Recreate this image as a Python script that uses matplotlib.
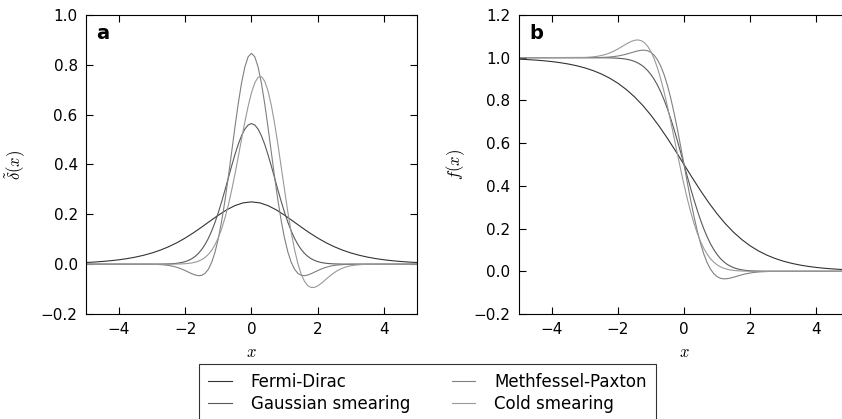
import matplotlib
matplotlib.use("Agg")
import matplotlib.pyplot as plt

plt.rcParams["mathtext.fontset"] = "cm"
plt.rcParams["font.family"] = ["DejaVu Sans"]

# Fermi-Dirac, sampled every 0.25
x_fd = [-5.0, -4.75, -4.5, -4.25, -4.0, -3.75, -3.5, -3.25, -3.0, -2.75,
        -2.5, -2.25, -2.0, -1.75, -1.5, -1.25, -1.0, -0.75, -0.5, -0.25,
        0.0, 0.25, 0.5, 0.75, 1.0, 1.25, 1.5, 1.75, 2.0, 2.25,
        2.5, 2.75, 3.0, 3.25, 3.5, 3.75, 4.0, 4.25, 4.5, 4.75, 5.0]
fd_delta = [0.00665, 0.00850, 0.01087, 0.01387, 0.01766, 0.02245, 0.02845, 0.03593, 0.04518, 0.05648,
            0.07010, 0.08626, 0.10499, 0.12613, 0.14915, 0.17311, 0.19661, 0.21790, 0.23500, 0.24613,
            0.25000, 0.24613, 0.23500, 0.21790, 0.19661, 0.17311, 0.14915, 0.12613, 0.10499, 0.08626,
            0.07010, 0.05648, 0.04518, 0.03593, 0.02845, 0.02245, 0.01766, 0.01387, 0.01087, 0.00850, 0.00665]
fd_occ = [0.99331, 0.99142, 0.98901, 0.98594, 0.98201, 0.97702, 0.97069, 0.96267, 0.95257, 0.93991,
          0.92414, 0.90465, 0.88080, 0.85195, 0.81757, 0.77730, 0.73106, 0.67918, 0.62246, 0.56218,
          0.50000, 0.43782, 0.37754, 0.32082, 0.26894, 0.22270, 0.18243, 0.14805, 0.11920, 0.09535,
          0.07586, 0.06009, 0.04743, 0.03733, 0.02931, 0.02298, 0.01799, 0.01406, 0.01099, 0.00858, 0.00669]

# the gaussian-type smearings, sampled every 0.1 in the middle
xs = [-5.0,
      -3.0, -2.9, -2.8, -2.7, -2.6, -2.5, -2.4, -2.3, -2.2, -2.1,
      -2.0, -1.9, -1.8, -1.7, -1.6, -1.5, -1.4, -1.3, -1.2, -1.1,
      -1.0, -0.9, -0.8, -0.7, -0.6, -0.5, -0.4, -0.3, -0.2, -0.1,
      0.0, 0.1, 0.2, 0.3, 0.4, 0.5, 0.6, 0.7, 0.8, 0.9,
      1.0, 1.1, 1.2, 1.3, 1.4, 1.5, 1.6, 1.7, 1.8, 1.9,
      2.0, 2.1, 2.2, 2.3, 2.4, 2.5, 2.6, 2.7, 2.8, 2.9,
      3.0, 3.1, 3.2, 3.3, 3.4, 3.5,
      5.0]

gauss_delta = [0.0,
               0.0001, 0.0001, 0.0002, 0.0004, 0.0007, 0.0011, 0.0018, 0.0028, 0.0045, 0.0069,
               0.0103, 0.0153, 0.0221, 0.0314, 0.0436, 0.0595, 0.0795, 0.1041, 0.1337, 0.1682,
               0.2076, 0.2510, 0.2975, 0.3456, 0.3936, 0.4394, 0.4808, 0.5156, 0.5421, 0.5586,
               0.5642, 0.5586, 0.5421, 0.5156, 0.4808, 0.4394, 0.3936, 0.3456, 0.2975, 0.2510,
               0.2076, 0.1682, 0.1337, 0.1041, 0.0795, 0.0595, 0.0436, 0.0314, 0.0221, 0.0153,
               0.0103, 0.0069, 0.0045, 0.0028, 0.0018, 0.0011, 0.0007, 0.0004, 0.0002, 0.0001,
               0.0001, 0.0, 0.0, 0.0, 0.0, 0.0,
               0.0]
mp_delta = [0.0,
            -0.0005, -0.0009, -0.0014, -0.0022, -0.0034, -0.0052, -0.0076, -0.0108, -0.0149, -0.0200,
            -0.0259, -0.0322, -0.0384, -0.0436, -0.0462, -0.0446, -0.0366, -0.0198, 0.0080, 0.0488,
            0.1038, 0.1732, 0.2558, 0.3491, 0.4487, 0.5492, 0.6442, 0.7270, 0.7914, 0.8323,
            0.8463, 0.8323, 0.7914, 0.7270, 0.6442, 0.5492, 0.4487, 0.3491, 0.2558, 0.1732,
            0.1038, 0.0488, 0.0080, -0.0198, -0.0366, -0.0446, -0.0462, -0.0436, -0.0384, -0.0322,
            -0.0259, -0.0200, -0.0149, -0.0108, -0.0076, -0.0052, -0.0034, -0.0022, -0.0014, -0.0009,
            -0.0005, -0.0003, -0.0002, -0.0001, 0.0, 0.0,
            0.0]
cold_delta = [0.0,
              0.0, 0.0, 0.0, 0.0, 0.0, 0.0001, 0.0002, 0.0004, 0.0006, 0.0011,
              0.0019, 0.0031, 0.0049, 0.0078, 0.0121, 0.0183, 0.0272, 0.0396, 0.0563, 0.0783,
              0.1068, 0.1423, 0.1856, 0.2368, 0.2955, 0.3605, 0.4300, 0.5011, 0.5705, 0.6341,
              0.6878, 0.7276, 0.7501, 0.7527, 0.7344, 0.6954, 0.6376, 0.5642, 0.4796, 0.3888,
              0.2969, 0.2088, 0.1287, 0.0596, 0.0035, -0.0391, -0.0685, -0.0860, -0.0935, -0.0932,
              -0.0873, -0.0779, -0.0667, -0.0551, -0.0440, -0.0341, -0.0257, -0.0189, -0.0135, -0.0094,
              -0.0064, -0.0043, -0.0028, -0.0018, -0.0011, -0.0007,
              0.0]

gauss_occ = [1.0,
             1.0000, 1.0000, 1.0000, 0.9999, 0.9999, 0.9998, 0.9997, 0.9994, 0.9991, 0.9985,
             0.9977, 0.9964, 0.9945, 0.9919, 0.9882, 0.9831, 0.9761, 0.9670, 0.9552, 0.9401,
             0.9214, 0.8985, 0.8711, 0.8389, 0.8019, 0.7602, 0.7142, 0.6643, 0.6114, 0.5562,
             0.5000, 0.4438, 0.3886, 0.3357, 0.2858, 0.2398, 0.1981, 0.1611, 0.1289, 0.1015,
             0.0786, 0.0599, 0.0448, 0.0330, 0.0239, 0.0169, 0.0118, 0.0081, 0.0055, 0.0036,
             0.0023, 0.0015, 0.0009, 0.0006, 0.0003, 0.0002, 0.0001, 0.0001, 0.0, 0.0,
             0.0, 0.0, 0.0, 0.0, 0.0, 0.0,
             0.0]
mp_occ = [1.0,
          1.0001, 1.0002, 1.0003, 1.0005, 1.0007, 1.0012, 1.0018, 1.0027, 1.0040, 1.0057,
          1.0080, 1.0109, 1.0144, 1.0186, 1.0231, 1.0277, 1.0318, 1.0347, 1.0354, 1.0326,
          1.0251, 1.0114, 0.9900, 0.9599, 0.9200, 0.8701, 0.8104, 0.7417, 0.6656, 0.5842,
          0.5000, 0.4158, 0.3344, 0.2583, 0.1897, 0.1299, 0.0800, 0.0401, 0.0100, -0.0114,
          -0.0251, -0.0326, -0.0354, -0.0347, -0.0318, -0.0277, -0.0231, -0.0186, -0.0144, -0.0109,
          -0.0080, -0.0057, -0.0040, -0.0027, -0.0018, -0.0012, -0.0007, -0.0005, -0.0003, -0.0002,
          -0.0001, -0.0001, 0.0, 0.0, 0.0, 0.0,
          0.0]
cold_occ = [1.0,
            1.0014, 1.0022, 1.0034, 1.0050, 1.0072, 1.0102, 1.0141, 1.0190, 1.0251, 1.0323,
            1.0406, 1.0497, 1.0591, 1.0681, 1.0759, 1.0814, 1.0833, 1.0803, 1.0710, 1.0542,
            1.0289, 0.9947, 0.9512, 0.8989, 0.8388, 0.7720, 0.7003, 0.6258, 0.5505, 0.4764,
            0.4055, 0.3393, 0.2790, 0.2254, 0.1789, 0.1394, 0.1066, 0.0801, 0.0590, 0.0427,
            0.0303, 0.0211, 0.0144, 0.0097, 0.0063, 0.0041, 0.0026, 0.0016, 0.0010, 0.0006,
            0.0003, 0.0002, 0.0001, 0.0001, 0.0, 0.0, 0.0, 0.0, 0.0, 0.0,
            0.0, 0.0, 0.0, 0.0, 0.0, 0.0,
            0.0]

names = ["Fermi-Dirac", "Gaussian smearing", "Methfessel-Paxton", "Cold smearing"]
greys = ["0.2", "0.35", "0.5", "0.6"]

fig = plt.figure(figsize=(8.42, 4.19), dpi=100)
ax1 = fig.add_axes([0.1021, 0.2506, 0.3931, 0.7136])
ax2 = fig.add_axes([0.6158, 0.2506, 0.3931, 0.7136])

lw = 0.8
ax1.plot(x_fd, fd_delta, color=greys[0], lw=lw, label=names[0])
ax1.plot(xs, gauss_delta, color=greys[1], lw=lw, label=names[1])
ax1.plot(xs, mp_delta, color=greys[2], lw=lw, label=names[2])
ax1.plot(xs, cold_delta, color=greys[3], lw=lw, label=names[3])

ax2.plot(x_fd, fd_occ, color=greys[0], lw=lw)
ax2.plot(xs, gauss_occ, color=greys[1], lw=lw)
ax2.plot(xs, mp_occ, color=greys[2], lw=lw)
ax2.plot(xs, cold_occ, color=greys[3], lw=lw)

ax1.set_ylim(-0.2, 1.0)
ax2.set_ylim(-0.2, 1.2)
ax1.set_ylabel(r"$\tilde{\delta}(x)$", fontsize=12)
ax2.set_ylabel(r"$f(x)$", fontsize=12)
ax1.yaxis.set_label_coords(-0.175, 0.5)
ax2.yaxis.set_label_coords(-0.155, 0.5)

for ax, letter in ((ax1, "a"), (ax2, "b")):
    ax.set_xlim(-5, 5)
    ax.set_xticks([-4, -2, 0, 2, 4])
    ax.set_xlabel(r"$x$", fontsize=12, labelpad=4)
    ax.tick_params(direction="in", top=True, right=True, length=5, width=0.8,
                   labelsize=11, pad=6)
    for sp in ax.spines.values():
        sp.set_linewidth(0.8)
    ax.text(0.032, 0.919, letter, transform=ax.transAxes, fontsize=14,
            fontweight="bold", ha="left", va="baseline")

handles, labels = ax1.get_legend_handles_labels()
leg = fig.legend(handles, labels, ncol=2, loc="upper left",
                 bbox_to_anchor=(199 / 842, 1 - 364 / 419),
                 fancybox=False, edgecolor="black", fontsize=12,
                 handlelength=1.4, handletextpad=1.15, columnspacing=2.5,
                 borderpad=0.55, labelspacing=0.24, borderaxespad=0)
leg.get_frame().set_linewidth(0.8)

fig.savefig("out.png", dpi=100)
